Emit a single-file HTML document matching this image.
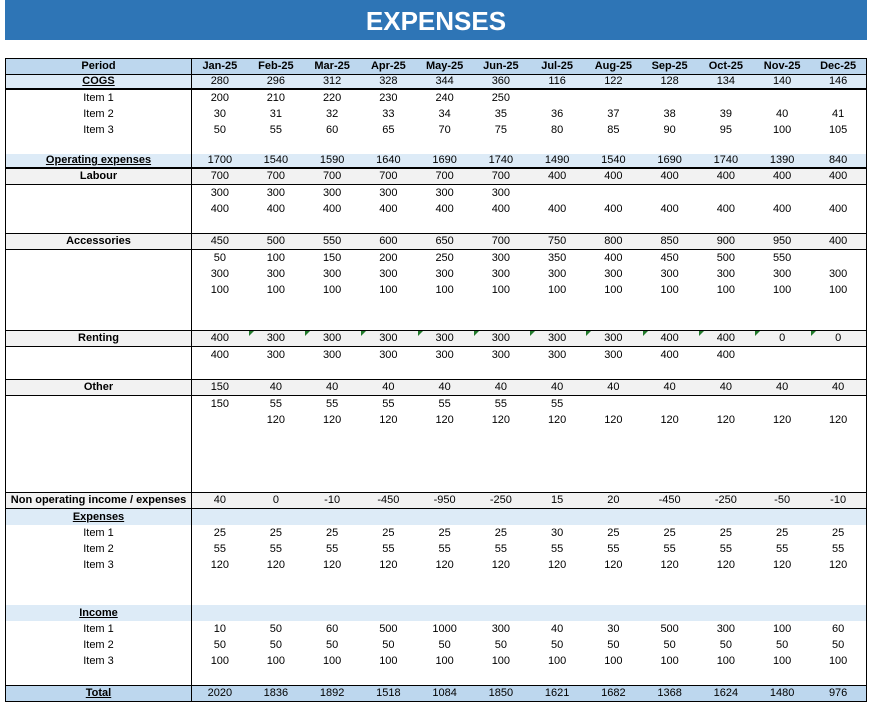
<!DOCTYPE html>
<html><head><meta charset="utf-8"><style>
body{margin:0;background:#fff;width:871px;height:705px;overflow:hidden;font-family:"Liberation Sans",sans-serif;}
.title{position:absolute;left:5px;top:0;width:862px;height:40px;background:#2e75b6;color:#fff;font-weight:bold;font-size:26px;text-align:center;line-height:42px;}
table{position:absolute;left:5px;top:58px;border-collapse:collapse;table-layout:fixed;width:862px;font-size:11px;border-left:1px solid #000;border-right:1px solid #000;}
td{height:16px;padding:0;text-align:center;line-height:16px;white-space:nowrap;position:relative;}
td:first-child{width:185px;border-right:1px solid #000;}
.h td{background:#bdd7ee;font-weight:bold;border-top:1px solid #000;border-bottom:1px solid #000;height:15px;line-height:15px;}
.s td{background:#ddebf7;}
.s td:first-child{font-weight:bold;text-decoration:underline;}
.tb td{border-bottom:2px solid #000;height:13px;line-height:13px;}
.g td{background:#f2f2f2;border-top:1px solid #000;border-bottom:1px solid #000;height:15px;line-height:15px;}
.g td:first-child{font-weight:bold;}
.t td{background:#bdd7ee;border-top:1px solid #000;border-bottom:1px solid #000;height:15px;line-height:15px;}
.t td:first-child{font-weight:bold;text-decoration:underline;}
.tri::before{content:"";position:absolute;left:1px;top:0;border-top:5px solid #217a2b;border-right:5px solid transparent;}
</style></head><body>
<div class="title">EXPENSES</div>
<table>
<tr class="h"><td>Period</td><td>Jan-25</td><td>Feb-25</td><td>Mar-25</td><td>Apr-25</td><td>May-25</td><td>Jun-25</td><td>Jul-25</td><td>Aug-25</td><td>Sep-25</td><td>Oct-25</td><td>Nov-25</td><td>Dec-25</td></tr>
<tr class="s tb"><td>COGS</td><td>280</td><td>296</td><td>312</td><td>328</td><td>344</td><td>360</td><td>116</td><td>122</td><td>128</td><td>134</td><td>140</td><td>146</td></tr>
<tr><td>Item 1</td><td>200</td><td>210</td><td>220</td><td>230</td><td>240</td><td>250</td><td></td><td></td><td></td><td></td><td></td><td></td></tr>
<tr><td>Item 2</td><td>30</td><td>31</td><td>32</td><td>33</td><td>34</td><td>35</td><td>36</td><td>37</td><td>38</td><td>39</td><td>40</td><td>41</td></tr>
<tr><td>Item 3</td><td>50</td><td>55</td><td>60</td><td>65</td><td>70</td><td>75</td><td>80</td><td>85</td><td>90</td><td>95</td><td>100</td><td>105</td></tr>
<tr><td></td><td></td><td></td><td></td><td></td><td></td><td></td><td></td><td></td><td></td><td></td><td></td><td></td></tr>
<tr class="s tb"><td>Operating expenses</td><td>1700</td><td>1540</td><td>1590</td><td>1640</td><td>1690</td><td>1740</td><td>1490</td><td>1540</td><td>1690</td><td>1740</td><td>1390</td><td>840</td></tr>
<tr class="g"><td>Labour</td><td>700</td><td>700</td><td>700</td><td>700</td><td>700</td><td>700</td><td>400</td><td>400</td><td>400</td><td>400</td><td>400</td><td>400</td></tr>
<tr><td></td><td>300</td><td>300</td><td>300</td><td>300</td><td>300</td><td>300</td><td></td><td></td><td></td><td></td><td></td><td></td></tr>
<tr><td></td><td>400</td><td>400</td><td>400</td><td>400</td><td>400</td><td>400</td><td>400</td><td>400</td><td>400</td><td>400</td><td>400</td><td>400</td></tr>
<tr><td></td><td></td><td></td><td></td><td></td><td></td><td></td><td></td><td></td><td></td><td></td><td></td><td></td></tr>
<tr class="g"><td>Accessories</td><td>450</td><td>500</td><td>550</td><td>600</td><td>650</td><td>700</td><td>750</td><td>800</td><td>850</td><td>900</td><td>950</td><td>400</td></tr>
<tr><td></td><td>50</td><td>100</td><td>150</td><td>200</td><td>250</td><td>300</td><td>350</td><td>400</td><td>450</td><td>500</td><td>550</td><td></td></tr>
<tr><td></td><td>300</td><td>300</td><td>300</td><td>300</td><td>300</td><td>300</td><td>300</td><td>300</td><td>300</td><td>300</td><td>300</td><td>300</td></tr>
<tr><td></td><td>100</td><td>100</td><td>100</td><td>100</td><td>100</td><td>100</td><td>100</td><td>100</td><td>100</td><td>100</td><td>100</td><td>100</td></tr>
<tr><td></td><td></td><td></td><td></td><td></td><td></td><td></td><td></td><td></td><td></td><td></td><td></td><td></td></tr>
<tr><td></td><td></td><td></td><td></td><td></td><td></td><td></td><td></td><td></td><td></td><td></td><td></td><td></td></tr>
<tr class="g"><td>Renting</td><td>400</td><td class="tri">300</td><td class="tri">300</td><td class="tri">300</td><td class="tri">300</td><td class="tri">300</td><td class="tri">300</td><td class="tri">300</td><td class="tri">400</td><td class="tri">400</td><td class="tri">0</td><td class="tri">0</td></tr>
<tr><td></td><td>400</td><td>300</td><td>300</td><td>300</td><td>300</td><td>300</td><td>300</td><td>300</td><td>400</td><td>400</td><td></td><td></td></tr>
<tr><td></td><td></td><td></td><td></td><td></td><td></td><td></td><td></td><td></td><td></td><td></td><td></td><td></td></tr>
<tr class="g"><td>Other</td><td>150</td><td>40</td><td>40</td><td>40</td><td>40</td><td>40</td><td>40</td><td>40</td><td>40</td><td>40</td><td>40</td><td>40</td></tr>
<tr><td></td><td>150</td><td>55</td><td>55</td><td>55</td><td>55</td><td>55</td><td>55</td><td></td><td></td><td></td><td></td><td></td></tr>
<tr><td></td><td></td><td>120</td><td>120</td><td>120</td><td>120</td><td>120</td><td>120</td><td>120</td><td>120</td><td>120</td><td>120</td><td>120</td></tr>
<tr><td></td><td></td><td></td><td></td><td></td><td></td><td></td><td></td><td></td><td></td><td></td><td></td><td></td></tr>
<tr><td></td><td></td><td></td><td></td><td></td><td></td><td></td><td></td><td></td><td></td><td></td><td></td><td></td></tr>
<tr><td></td><td></td><td></td><td></td><td></td><td></td><td></td><td></td><td></td><td></td><td></td><td></td><td></td></tr>
<tr><td></td><td></td><td></td><td></td><td></td><td></td><td></td><td></td><td></td><td></td><td></td><td></td><td></td></tr>
<tr class="g"><td style="font-weight:bold">Non operating income / expenses</td><td>40</td><td>0</td><td>-10</td><td>-450</td><td>-950</td><td>-250</td><td>15</td><td>20</td><td>-450</td><td>-250</td><td>-50</td><td>-10</td></tr>
<tr class="s"><td>Expenses</td><td></td><td></td><td></td><td></td><td></td><td></td><td></td><td></td><td></td><td></td><td></td><td></td></tr>
<tr><td>Item 1</td><td>25</td><td>25</td><td>25</td><td>25</td><td>25</td><td>25</td><td>30</td><td>25</td><td>25</td><td>25</td><td>25</td><td>25</td></tr>
<tr><td>Item 2</td><td>55</td><td>55</td><td>55</td><td>55</td><td>55</td><td>55</td><td>55</td><td>55</td><td>55</td><td>55</td><td>55</td><td>55</td></tr>
<tr><td>Item 3</td><td>120</td><td>120</td><td>120</td><td>120</td><td>120</td><td>120</td><td>120</td><td>120</td><td>120</td><td>120</td><td>120</td><td>120</td></tr>
<tr><td></td><td></td><td></td><td></td><td></td><td></td><td></td><td></td><td></td><td></td><td></td><td></td><td></td></tr>
<tr><td></td><td></td><td></td><td></td><td></td><td></td><td></td><td></td><td></td><td></td><td></td><td></td><td></td></tr>
<tr class="s"><td>Income</td><td></td><td></td><td></td><td></td><td></td><td></td><td></td><td></td><td></td><td></td><td></td><td></td></tr>
<tr><td>Item 1</td><td>10</td><td>50</td><td>60</td><td>500</td><td>1000</td><td>300</td><td>40</td><td>30</td><td>500</td><td>300</td><td>100</td><td>60</td></tr>
<tr><td>Item 2</td><td>50</td><td>50</td><td>50</td><td>50</td><td>50</td><td>50</td><td>50</td><td>50</td><td>50</td><td>50</td><td>50</td><td>50</td></tr>
<tr><td>Item 3</td><td>100</td><td>100</td><td>100</td><td>100</td><td>100</td><td>100</td><td>100</td><td>100</td><td>100</td><td>100</td><td>100</td><td>100</td></tr>
<tr><td></td><td></td><td></td><td></td><td></td><td></td><td></td><td></td><td></td><td></td><td></td><td></td><td></td></tr>
<tr class="t"><td>Total</td><td>2020</td><td>1836</td><td>1892</td><td>1518</td><td>1084</td><td>1850</td><td>1621</td><td>1682</td><td>1368</td><td>1624</td><td>1480</td><td>976</td></tr>
</table>
</body></html>
